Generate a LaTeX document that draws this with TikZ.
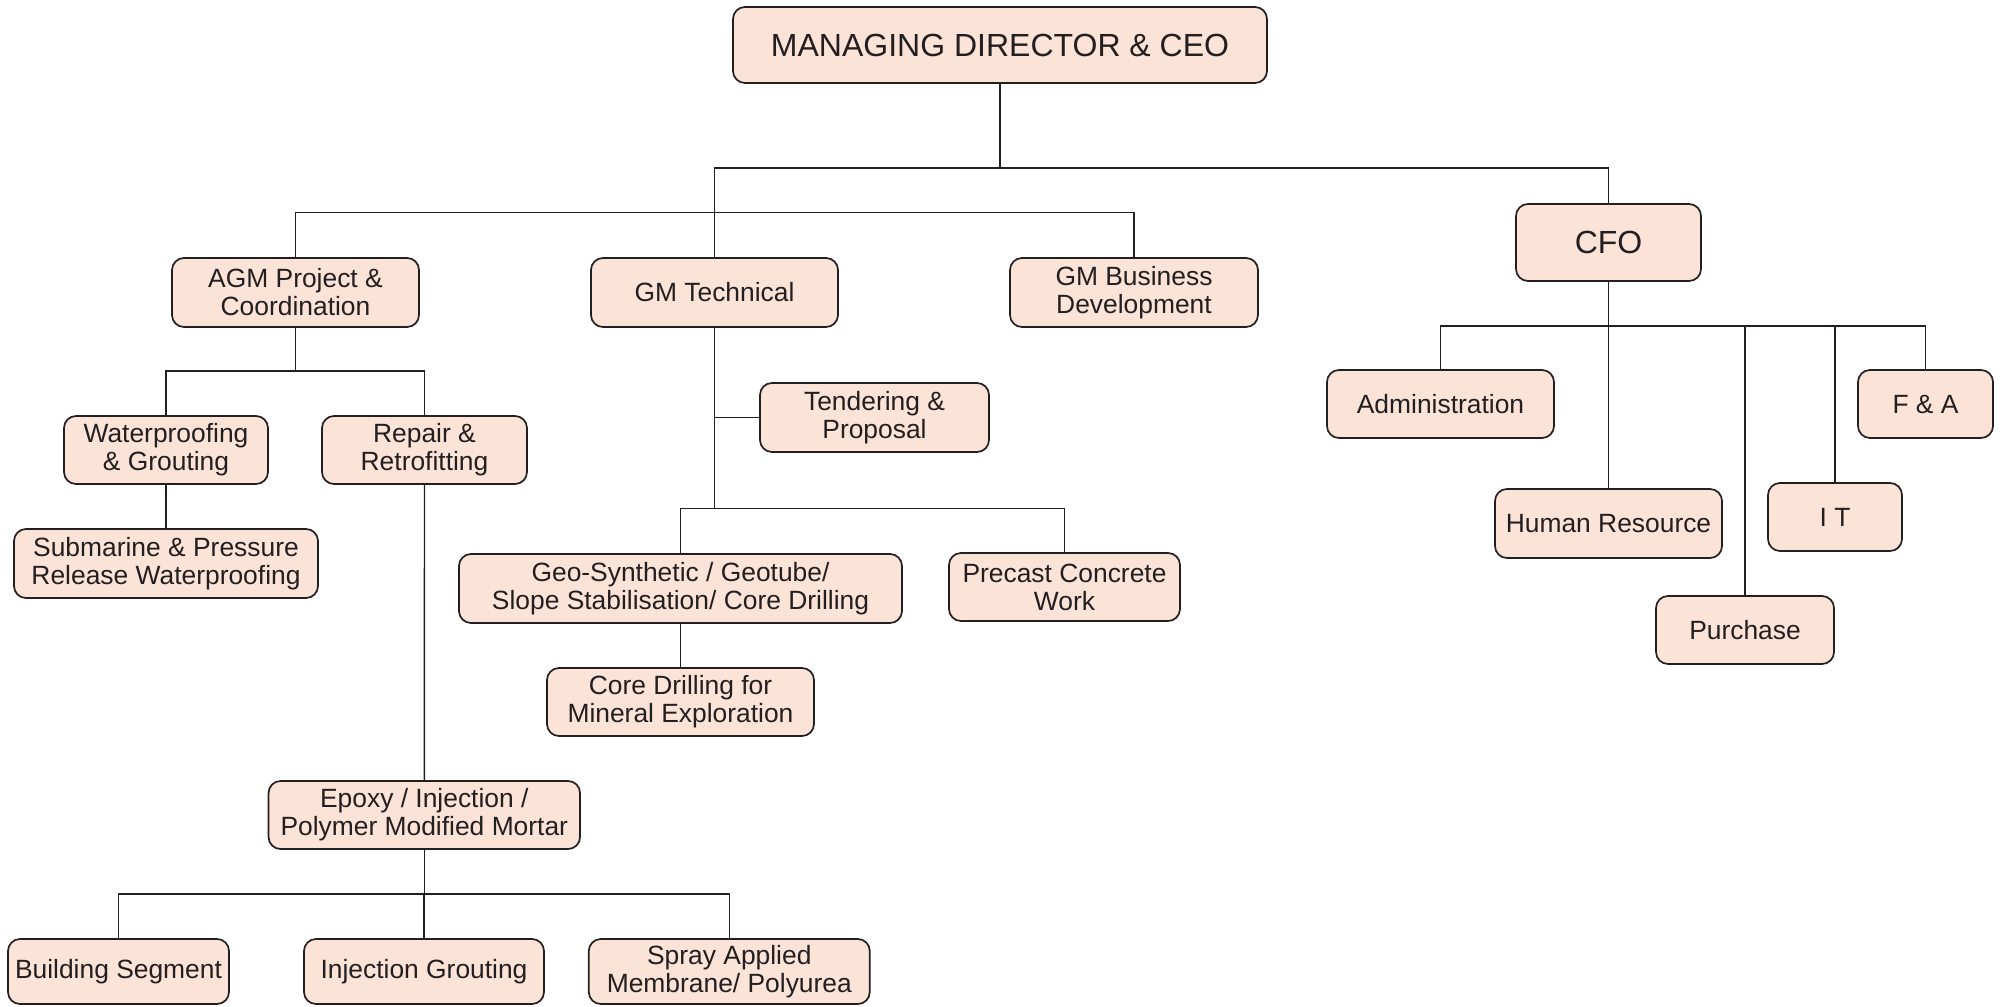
\documentclass[tikz,border=0pt]{standalone}
\usepackage{fontspec}
\setmainfont{Liberation Sans}
\definecolor{boxfill}{HTML}{FCE3D7}
\definecolor{linec}{HTML}{231F20}
\begin{document}
\begin{tikzpicture}[x=0.5pt,y=-0.5pt,
  box/.style={draw=linec, fill=boxfill, rounded corners=6pt, line width=0.85pt,
    align=center, inner sep=0pt, text=linec,
    font=\fontsize{13.2}{14}\selectfont},
  bigbox/.style={box, font=\fontsize{16}{18}\selectfont},
  conn/.style={draw=linec, line width=0.7pt}]
\useasboundingbox (0,0) rectangle (2001,1006);
\clip (0,0) rectangle (2001,1006);
% level 0/1
\node[bigbox, minimum width=267pt, minimum height=38pt] (md) at (1000,45) {MANAGING DIRECTOR \& CEO};
\node[box, minimum width=123.5pt, minimum height=34.5pt] (agm) at (295.5,292.5) {AGM Project \&\\Coordination};
\node[box, minimum width=123.5pt, minimum height=34.5pt] (gmt) at (714.5,292.5) {GM Technical};
\node[box, minimum width=124pt, minimum height=34.5pt] (gmb) at (1134,292.5) {GM Business\\Development};
\node[bigbox, minimum width=92.5pt, minimum height=38.5pt] (cfo) at (1608.5,242.5) {CFO};
% AGM branch
\node[box, minimum width=102pt, minimum height=34pt] (wp) at (166,450) {Waterproofing\\\& Grouting};
\node[box, minimum width=102.5pt, minimum height=34pt] (rr) at (424.5,450) {Repair \&\\Retrofitting};
\node[box, minimum width=152pt, minimum height=34.5pt] (sub) at (166,563.5) {Submarine \& Pressure\\Release Waterproofing};
\node[box, minimum width=155.75pt, minimum height=34pt] (ep) at (424.3,815) {Epoxy / Injection /\\Polymer Modified Mortar};
\node[box, minimum width=110.5pt, minimum height=32.5pt] (bs) at (118.5,971.5) {Building Segment};
\node[box, minimum width=120pt, minimum height=32.5pt] (ig) at (424,971.5) {Injection Grouting};
\node[box, minimum width=140.5pt, minimum height=32.5pt] (sp) at (729.3,971.5) {Spray Applied\\Membrane/ Polyurea};
% GM Technical branch
\node[box, minimum width=114.5pt, minimum height=34.5pt] (tp) at (874.5,417.5) {Tendering \&\\Proposal};
\node[box, minimum width=221.5pt, minimum height=34.5pt] (geo) at (680.5,588.5) {Geo-Synthetic / Geotube/\\Slope Stabilisation/ Core Drilling};
\node[box, minimum width=115.5pt, minimum height=34pt] (pc) at (1064.5,587) {Precast Concrete\\Work};
\node[box, minimum width=133.5pt, minimum height=34pt] (core) at (680.5,702) {Core Drilling for\\Mineral Exploration};
% CFO branch
\node[box, minimum width=113.5pt, minimum height=34pt] (adm) at (1440.5,404) {Administration};
\node[box, minimum width=113.5pt, minimum height=34.5pt] (hr) at (1608.5,523.5) {Human Resource};
\node[box, minimum width=89pt, minimum height=34pt] (pu) at (1745,630) {Purchase};
\node[box, minimum width=67pt, minimum height=34pt] (it) at (1835,517) {I T};
\node[box, minimum width=67.5pt, minimum height=34pt] (fa) at (1925.5,404) {F \& A};
% bar levels
\coordinate (bA) at (0,168);
\coordinate (bB) at (0,212.7);
\coordinate (bC) at (0,371);
\coordinate (bT) at (0,508.3);
\coordinate (bE) at (0,894);
\coordinate (bF) at (0,326);
% connectors
\draw[conn] (md.south) -- (md.south |- bA);
\draw[conn] (gmt.north) -- (gmt.north |- bA) -| (cfo.north);
\draw[conn] (agm.north) -- (agm.north |- bB) -| (gmb.north);
\draw[conn] (agm.south) -- (agm.south |- bC);
\draw[conn] (wp.north) -- (wp.north |- bC) -| (rr.north);
\draw[conn] (wp.south) -- (sub.north);
\draw[conn] (rr.south) -- (ep.north);
\draw[conn] (ep.south) -- (ep.south |- bE);
\draw[conn] (bs.north) -- (bs.north |- bE) -| (sp.north);
\draw[conn] (ig.north) -- (ig.north |- bE);
\draw[conn] (gmt.south) -- (gmt.south |- bT);
\draw[conn] (tp.west) -- (tp.west -| gmt.south);
\draw[conn] (geo.north) -- (geo.north |- bT) -| (pc.north);
\draw[conn] (geo.south) -- (core.north);
\draw[conn] (cfo.south) -- (hr.north);
\draw[conn] (adm.north) -- (adm.north |- bF) -| (fa.north);
\draw[conn] (pu.north) -- (pu.north |- bF);
\draw[conn] (it.north) -- (it.north |- bF);
\end{tikzpicture}
\end{document}
